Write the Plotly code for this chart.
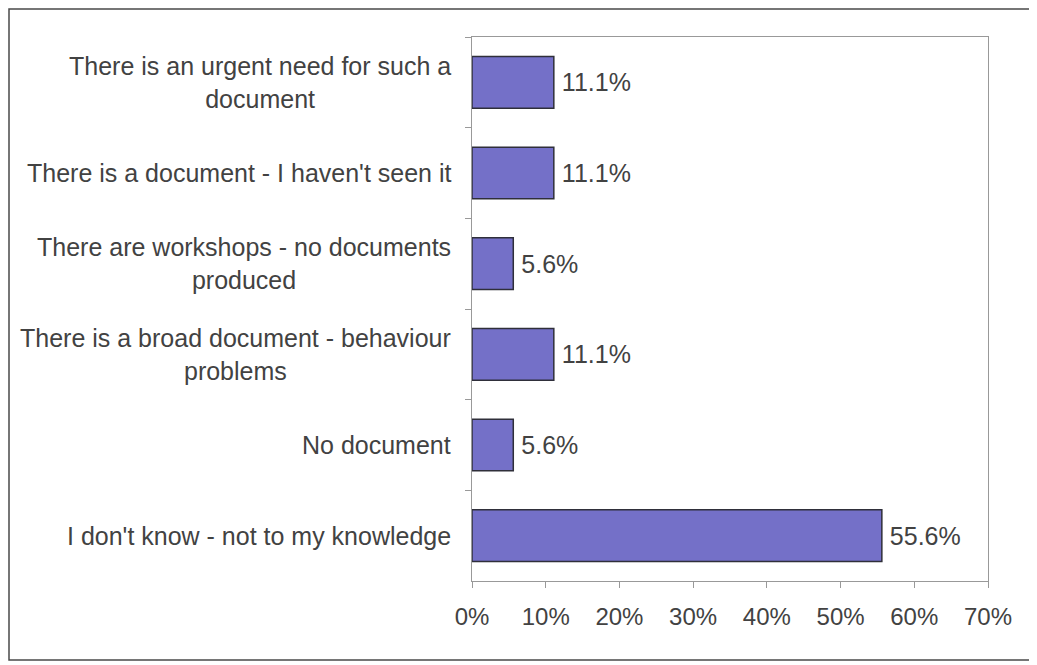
import plotly.graph_objects as go

categories = [
    "There is an urgent need for such a<br>document",
    "There is a document - I haven't seen it",
    "There are workshops - no documents<br>produced",
    "There is a broad document - behaviour<br>problems",
    "No document",
    "I don't know - not to my knowledge",
]
values = [11.1, 11.1, 5.6, 11.1, 5.6, 55.6]
x_ticks = [0, 10, 20, 30, 40, 50, 60, 70]
x_tick_labels = [f"{t}%" for t in x_ticks]

FONT = "Liberation Sans, Arial, sans-serif"
TXT = "#424242"
FS = 25

fig = go.Figure(
    go.Bar(
        y=categories,
        x=values,
        orientation="h",
        marker=dict(color="#7470c8", line=dict(color="#2f2f3a", width=1.5)),
        text=[f"\u2009{v:.1f}%" for v in values],
        textposition="outside",
        textfont=dict(family=FONT, size=FS, color=TXT),
        cliponaxis=False,
        width=0.57,
    )
)

W, H = 1029, 657
L, R, T, B = 464, 49, 29, 84
pw, ph = W - L - R, H - T - B

for c in categories:
    fig.add_annotation(
        x=-19 / pw, xref="paper", y=c, yref="y",
        text=c, showarrow=False, xanchor="right", align="center",
        font=dict(family=FONT, size=FS, color=TXT),
    )

# outer frame around the whole chart
fig.add_shape(
    type="rect", xref="paper", yref="paper",
    x0=(1 - L) / pw, x1=(W + 10 - L) / pw,
    y0=-(652 - (H - B)) / ph, y1=(H - B - 1) / ph,
    line=dict(color="#4a4a4a", width=1.5), layer="below",
)

fig.update_layout(
    width=W, height=H,
    margin=dict(l=L, r=R, t=T, b=B),
    paper_bgcolor="white", plot_bgcolor="white",
    showlegend=False,
    font=dict(family=FONT, size=FS, color=TXT),
    xaxis=dict(
        range=[0, 70], tickvals=x_ticks, ticktext=x_tick_labels,
        ticks="outside", ticklen=6, tickcolor="#999",
        showline=True, linecolor="#999", linewidth=1, mirror=True,
        showgrid=False, zeroline=False,
        tickfont=dict(family=FONT, size=FS - 1, color=TXT),
        ticklabelstandoff=8,
    ),
    yaxis=dict(
        autorange="reversed", showticklabels=False,
        ticks="outside", ticklen=6, tickcolor="#999", tickson="boundaries",
        showline=True, linecolor="#999", linewidth=1, mirror=True,
        showgrid=False, zeroline=False,
    ),
)

fig.write_html("out.html")
